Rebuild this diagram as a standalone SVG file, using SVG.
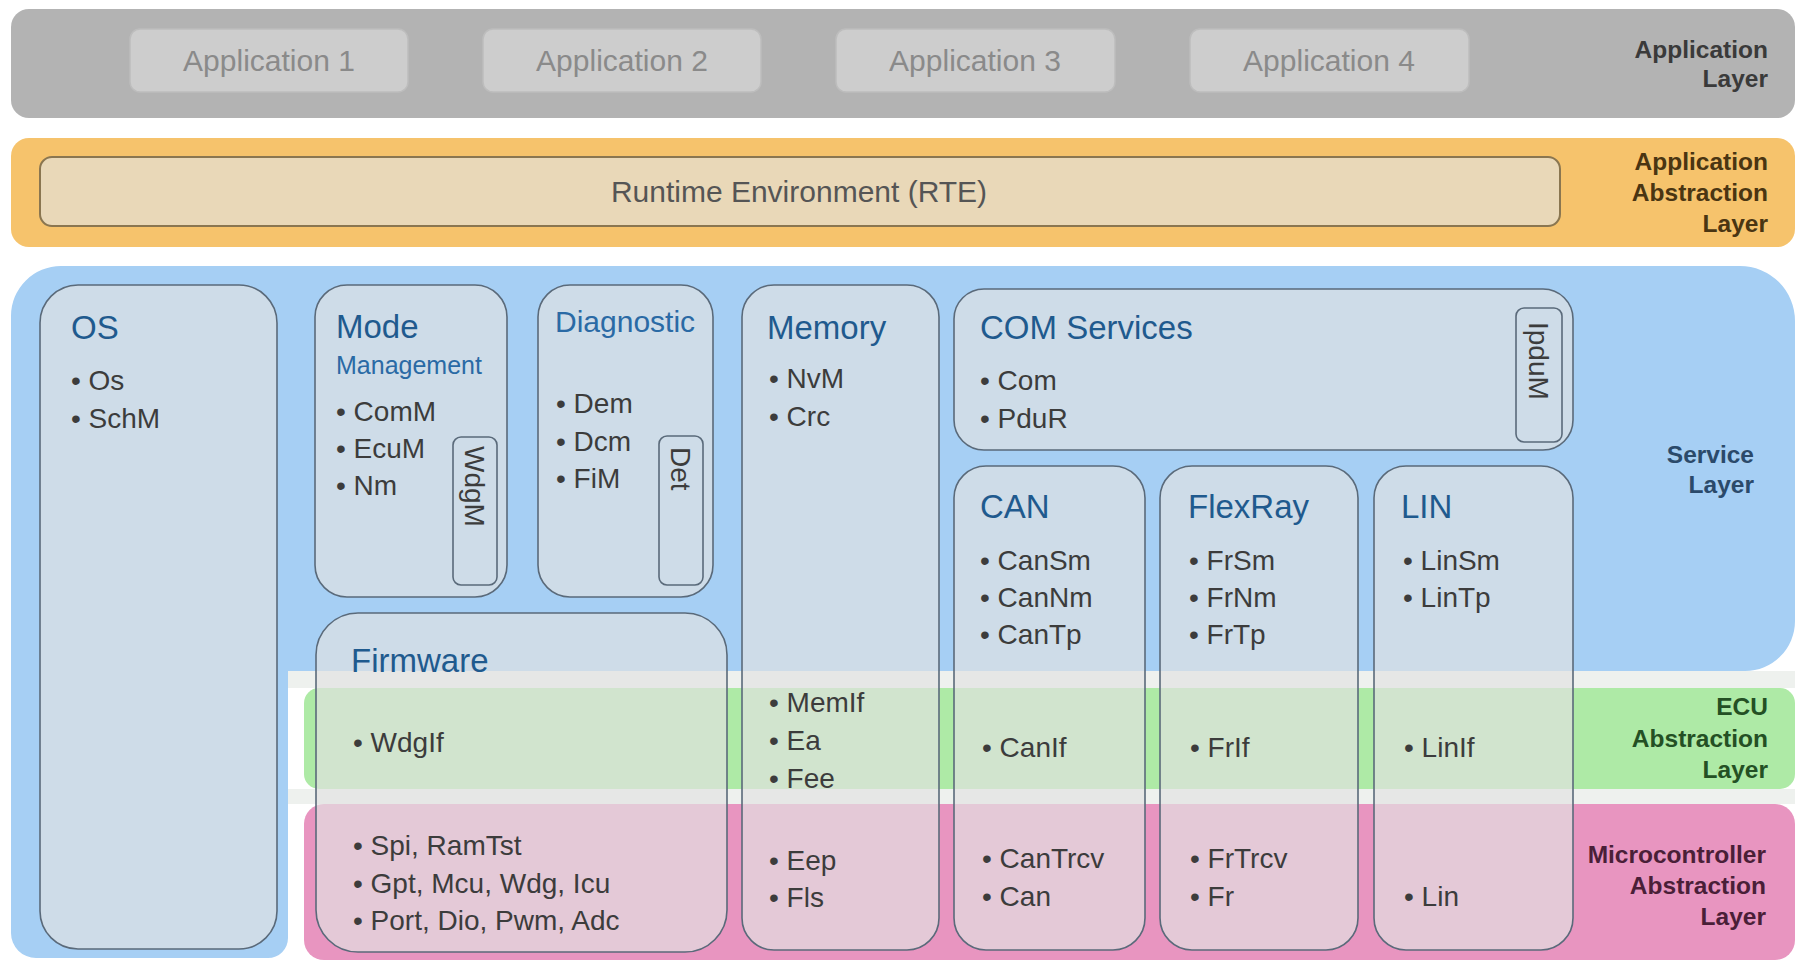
<svg xmlns="http://www.w3.org/2000/svg" width="1798" height="962" viewBox="0 0 1798 962">
<style>
.lbl{font-family:"Liberation Sans",Arial,sans-serif;font-weight:bold;font-size:24.5px;text-anchor:end}
.app{fill:#cdcdcd;stroke:#bdbdbd;stroke-width:1.5}
.appt{font-family:"Liberation Sans",Arial,sans-serif;font-size:30px;fill:#8a8a8a;text-anchor:middle}
.mod{fill:#e2e2e2;fill-opacity:0.68;stroke:#5a6a7a;stroke-width:1.6}
.vbox{fill:none;stroke:#5a6a7a;stroke-width:1.6}
.h{font-family:"Liberation Sans",Arial,sans-serif;font-size:33px;fill:#1f5a8e}
.h2{font-family:"Liberation Sans",Arial,sans-serif;font-size:30px;fill:#2a6aa5}
.h3{font-family:"Liberation Sans",Arial,sans-serif;font-size:25px;fill:#2a6aa5}
.b{font-family:"Liberation Sans",Arial,sans-serif;font-size:28px;fill:#3c3c3c}
</style>
<rect width="1798" height="962" fill="#ffffff"/>

<g id="layers">
  <rect id="application-layer" x="11" y="9" width="1784" height="109" rx="18" fill="#b3b3b3"/>
  <rect id="application-abstraction-layer" x="11" y="138" width="1784" height="109" rx="18" fill="#f6c36c"/>
  <path id="service-layer" d="M61 266 H1740 A55 55 0 0 1 1795 321 V621 A50 50 0 0 1 1745 671 H288 V938 A20 20 0 0 1 268 958 H36 A25 25 0 0 1 11 933 V316 A50 50 0 0 1 61 266 Z" fill="#a6cff4"/>
  <rect x="288" y="671" width="1507" height="17" fill="#eef1ee"/>
  <rect x="288" y="789" width="1507" height="15" fill="#eef1ee"/>
  <rect id="ecu-abstraction-layer" x="304" y="688" width="1491" height="101" rx="15" fill="#aeeaa6"/>
  <rect id="mcal-layer" x="304" y="804" width="1491" height="156" rx="20" fill="#e895c0"/>
</g>

<g id="layer-labels">
  <text class="lbl" fill="#3a3a3a" x="1768" y="58">Application</text>
  <text class="lbl" fill="#3a3a3a" x="1768" y="87">Layer</text>
  <text class="lbl" fill="#4a3512" x="1768" y="170">Application</text>
  <text class="lbl" fill="#4a3512" x="1768" y="201">Abstraction</text>
  <text class="lbl" fill="#4a3512" x="1768" y="232">Layer</text>
  <text class="lbl" fill="#2b4a6a" x="1754" y="463">Service</text>
  <text class="lbl" fill="#2b4a6a" x="1754" y="493">Layer</text>
  <text class="lbl" fill="#245024" x="1768" y="715">ECU</text>
  <text class="lbl" fill="#245024" x="1768" y="747">Abstraction</text>
  <text class="lbl" fill="#245024" x="1768" y="778">Layer</text>
  <text class="lbl" fill="#4a1f38" x="1766" y="863">Microcontroller</text>
  <text class="lbl" fill="#4a1f38" x="1766" y="894">Abstraction</text>
  <text class="lbl" fill="#4a1f38" x="1766" y="925">Layer</text>
</g>

<g id="app1"><rect class="app" x="130" y="29" width="278" height="63" rx="10"/><text class="appt" x="269" y="71">Application 1</text></g>
<g id="app2"><rect class="app" x="483" y="29" width="278" height="63" rx="10"/><text class="appt" x="622" y="71">Application 2</text></g>
<g id="app3"><rect class="app" x="836" y="29" width="279" height="63" rx="10"/><text class="appt" x="975" y="71">Application 3</text></g>
<g id="app4"><rect class="app" x="1190" y="29" width="279" height="63" rx="10"/><text class="appt" x="1329" y="71">Application 4</text></g>

<g id="rte">
  <rect x="40" y="157" width="1520" height="69" rx="12" fill="#e9d8b8" stroke="#8a7650" stroke-width="2"/>
  <text x="799" y="202" font-family="Liberation Sans, Arial, sans-serif" font-size="30" fill="#555555" text-anchor="middle">Runtime Environment (RTE)</text>
</g>

<g id="os">
  <rect class="mod" x="40" y="285" width="237" height="664" rx="38"/>
  <text class="h" x="71" y="339">OS</text>
  <text class="b" x="71" y="390">• Os</text>
  <text class="b" x="71" y="428">• SchM</text>
</g>

<g id="mode-management">
  <rect class="mod" x="315" y="285" width="192" height="312" rx="32"/>
  <text class="h" x="336" y="338">Mode</text>
  <text class="h3" x="336" y="374">Management</text>
  <text class="b" x="336" y="421">• ComM</text>
  <text class="b" x="336" y="458">• EcuM</text>
  <text class="b" x="336" y="495">• Nm</text>
  <rect class="vbox" x="453" y="437" width="44" height="148" rx="8"/>
  <text class="b" transform="translate(475 446) rotate(90)" x="0" y="10">WdgM</text>
</g>

<g id="diagnostic">
  <rect class="mod" x="538" y="285" width="175" height="312" rx="32"/>
  <text class="h2" x="555" y="332">Diagnostic</text>
  <text class="b" x="556" y="413">• Dem</text>
  <text class="b" x="556" y="451">• Dcm</text>
  <text class="b" x="556" y="488">• FiM</text>
  <rect class="vbox" x="659" y="436" width="44" height="149" rx="8"/>
  <text class="b" transform="translate(681 447) rotate(90)" x="0" y="10">Det</text>
</g>

<g id="firmware">
  <rect class="mod" x="316" y="613" width="411" height="339" rx="42"/>
  <text class="h" x="351" y="672">Firmware</text>
  <text class="b" x="353" y="752">• WdgIf</text>
  <text class="b" x="353" y="855">• Spi, RamTst</text>
  <text class="b" x="353" y="893">• Gpt, Mcu, Wdg, Icu</text>
  <text class="b" x="353" y="930">• Port, Dio, Pwm, Adc</text>
</g>

<g id="memory">
  <rect class="mod" x="742" y="285" width="197" height="665" rx="32"/>
  <text class="h" x="767" y="339">Memory</text>
  <text class="b" x="769" y="388">• NvM</text>
  <text class="b" x="769" y="426">• Crc</text>
  <text class="b" x="769" y="712">• MemIf</text>
  <text class="b" x="769" y="750">• Ea</text>
  <text class="b" x="769" y="788">• Fee</text>
  <text class="b" x="769" y="870">• Eep</text>
  <text class="b" x="769" y="907">• Fls</text>
</g>

<g id="com-services">
  <rect class="mod" x="954" y="289" width="619" height="161" rx="30"/>
  <text class="h" x="980" y="339">COM Services</text>
  <text class="b" x="980" y="390">• Com</text>
  <text class="b" x="980" y="428">• PduR</text>
  <rect class="vbox" x="1516" y="308" width="46" height="134" rx="8"/>
  <text class="b" transform="translate(1539 322) rotate(90)" x="0" y="10">IpduM</text>
</g>

<g id="can">
  <rect class="mod" x="954" y="466" width="191" height="484" rx="32"/>
  <text class="h" x="980" y="518">CAN</text>
  <text class="b" x="980" y="570">• CanSm</text>
  <text class="b" x="980" y="607">• CanNm</text>
  <text class="b" x="980" y="644">• CanTp</text>
  <text class="b" x="982" y="757">• CanIf</text>
  <text class="b" x="982" y="868">• CanTrcv</text>
  <text class="b" x="982" y="906">• Can</text>
</g>

<g id="flexray">
  <rect class="mod" x="1160" y="466" width="198" height="484" rx="32"/>
  <text class="h" x="1188" y="518">FlexRay</text>
  <text class="b" x="1189" y="570">• FrSm</text>
  <text class="b" x="1189" y="607">• FrNm</text>
  <text class="b" x="1189" y="644">• FrTp</text>
  <text class="b" x="1190" y="757">• FrIf</text>
  <text class="b" x="1190" y="868">• FrTrcv</text>
  <text class="b" x="1190" y="906">• Fr</text>
</g>

<g id="lin">
  <rect class="mod" x="1374" y="466" width="199" height="484" rx="32"/>
  <text class="h" x="1401" y="518">LIN</text>
  <text class="b" x="1403" y="570">• LinSm</text>
  <text class="b" x="1403" y="607">• LinTp</text>
  <text class="b" x="1404" y="757">• LinIf</text>
  <text class="b" x="1404" y="906">• Lin</text>
</g>

<g id="connectors"></g>
</svg>
